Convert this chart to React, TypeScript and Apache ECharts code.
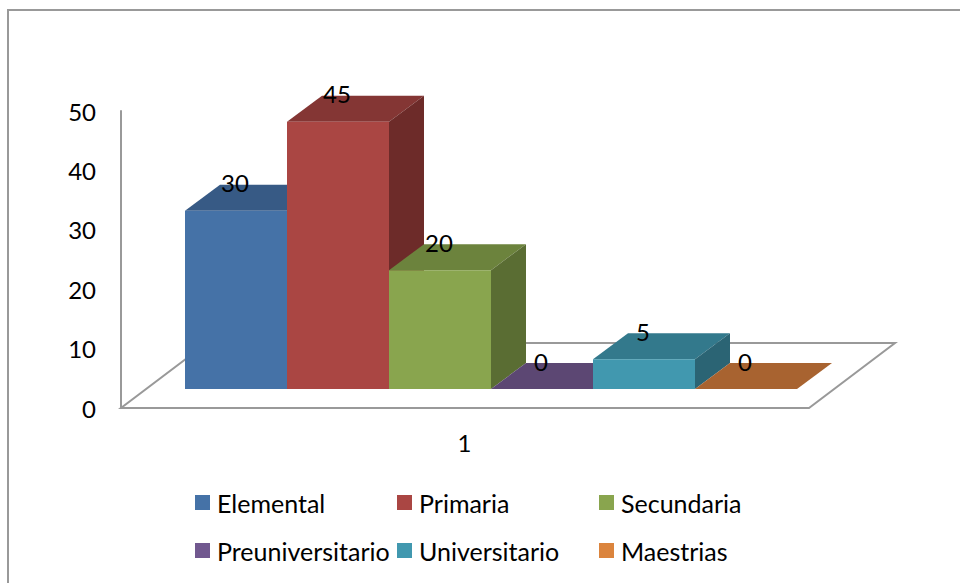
import React, { useEffect, useRef } from "react";
import * as echarts from "echarts";

const categories = ["1"];
const seriesNames = ["Elemental", "Primaria", "Secundaria", "Preuniversitario", "Universitario", "Maestrias"];
const seriesValues = [30, 45, 20, 0, 5, 0];
const frontColors = ["#4572A7", "#AA4643", "#89A54E", "#71588F", "#4198AF", "#DB843D"];
const topColors = ["#375A85", "#843634", "#6C833D", "#5C4773", "#33798C", "#A86330"];
const sideColors = ["#2E4C70", "#6D2B29", "#5A6D33", "#4B3A5F", "#2B6474", "#8C5228"];
const yTicks = { min: 0, max: 50, interval: 10 };

const FONT = "Lato";
const FS = 24;
const LEGEND_FS = 25;
const DX = 35;
const DY = -26;
const LINE = "#999999";

const pointsOf = (p: number[][]) => ({ points: p });

export default function App() {
  const ref = useRef<HTMLDivElement>(null);
  useEffect(() => {
    const chart = echarts.init(ref.current!, null, { renderer: "svg" });
    const renderItem = (idx: number) => (_: any, api: any) => {
      const i = api.value(0);
      const v = api.value(1);
      const [x0, y0] = api.coord([i, 0]);
      const [x1, y1] = api.coord([i + 1, v]);
      const children: any[] = [];
      children.push({
        type: "polygon",
        shape: pointsOf([[x0, y1], [x1, y1], [x1 + DX, y1 + DY], [x0 + DX, y1 + DY]]),
        style: { fill: topColors[idx] },
      });
      if (v > 0) {
        children.push({
          type: "polygon",
          shape: pointsOf([[x1, y1], [x1 + DX, y1 + DY], [x1 + DX, y0 + DY], [x1, y0]]),
          style: { fill: sideColors[idx] },
        });
        children.push({
          type: "rect",
          shape: { x: x0, y: y1, width: x1 - x0, height: y0 - y1 },
          style: { fill: frontColors[idx] },
        });
      }
      children.push({
        type: "text",
        z2: 10,
        style: {
          text: String(v),
          x: (x0 + x1) / 2 - 1,
          y: y1 + DY - 2,
          align: "center",
          verticalAlign: "middle",
          fontFamily: FONT,
          fontSize: FS,
          fill: "#000",
        },
      });
      return { type: "group", children };
    };

    const legendSlots = [
      [195, 490], [397, 490], [599, 490],
      [195, 538], [397, 538], [599, 538],
    ];

    chart.setOption({
      animation: false,
      backgroundColor: "#fff",
      grid: [
        { left: 121, top: 111, width: 687, height: 297 },
        { left: 185, top: 92, width: 612, height: 297 },
      ],
      xAxis: [
        {
          type: "category",
          gridIndex: 0,
          data: categories,
          axisLine: { show: false },
          axisTick: { show: false },
          axisLabel: { fontFamily: FONT, fontSize: FS, color: "#000", margin: 22 },
        },
        { type: "value", gridIndex: 1, min: 0, max: 6, show: false },
      ],
      yAxis: [
        {
          type: "value",
          gridIndex: 0,
          min: yTicks.min,
          max: yTicks.max,
          interval: yTicks.interval,
          splitLine: { show: false },
          axisLine: { show: true, lineStyle: { color: LINE, width: 2 } },
          axisTick: { show: false },
          axisLabel: { fontFamily: FONT, fontSize: FS, color: "#000", margin: 25, align: "right", padding: [3, 0, 0, 0] },
        },
        { type: "value", gridIndex: 1, min: yTicks.min, max: yTicks.max, show: false },
      ],
      legend: seriesNames.map((name, k) => ({
        data: [name],
        left: legendSlots[k][0],
        top: legendSlots[k][1],
        padding: 0,
        orient: "horizontal",
        icon: "rect",
        itemWidth: 15,
        itemHeight: 15,
        itemGap: 0,
        selectedMode: false,
        textStyle: { fontFamily: FONT, fontSize: LEGEND_FS, color: "#000", padding: [0, 0, 0, 2] },
      })),
      graphic: [
        {
          type: "polyline",
          z: 0,
          shape: { points: [[8, 583], [8, 10], [960, 10]] },
          style: { stroke: LINE, lineWidth: 2, fill: "none" },
        },
        {
          type: "polygon",
          z: 0,
          shape: { points: [[121, 408], [809, 408], [895, 343], [207, 343]] },
          style: { stroke: LINE, lineWidth: 2, fill: "#fff" },
        },
      ],
      series: seriesNames.map((name, k) => ({
        type: "custom",
        name,
        xAxisIndex: 1,
        yAxisIndex: 1,
        coordinateSystem: "cartesian2d",
        clip: false,
        silent: true,
        itemStyle: { color: frontColors[k] },
        renderItem: renderItem(k),
        encode: { x: 0, y: 1 },
        data: [[k, seriesValues[k]]],
      })),
    });
    return () => chart.dispose();
  }, []);
  return <div ref={ref} style={{ position: "fixed", left: 0, top: 0, width: 960, height: 583 }} />;
}
